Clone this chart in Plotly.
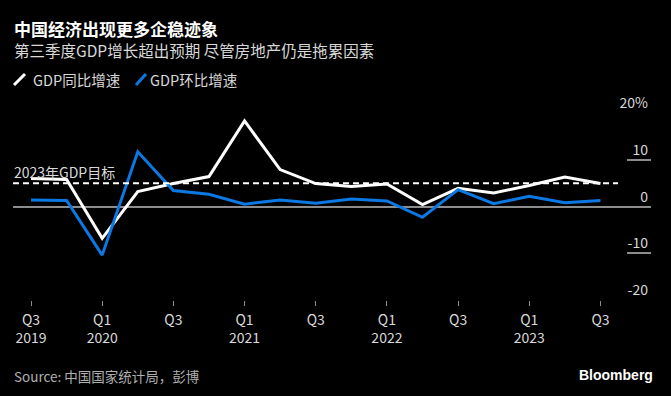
import plotly.graph_objects as go

W, H = 671, 396

quarters = ["2019Q3", "2019Q4", "2020Q1", "2020Q2", "2020Q3", "2020Q4",
            "2021Q1", "2021Q2", "2021Q3", "2021Q4", "2022Q1", "2022Q2",
            "2022Q3", "2022Q4", "2023Q1", "2023Q2", "2023Q3"]
yoy = [6.0, 5.8, -6.8, 3.2, 4.9, 6.4, 18.3, 7.9, 4.9, 4.3, 4.8, 0.4,
       3.9, 2.9, 4.5, 6.3, 4.9]
qoq = [1.4, 1.3, -10.4, 11.7, 3.4, 2.6, 0.5, 1.4, 0.7, 1.6, 1.2, -2.3,
       3.6, 0.6, 2.2, 0.8, 1.3]
series_names = ["GDP同比增速", "GDP环比增速"]
TARGET = 5.0
target_label = "2023年GDP目标"

xtick_idx = [0, 2, 4, 6, 8, 10, 12, 14, 16]
xtick_text = ["Q3<br>2019", "Q1<br>2020", "Q3", "Q1<br>2021", "Q3",
              "Q1<br>2022", "Q3", "Q1<br>2023", "Q3"]
ytick_vals = [-20, -10, 0, 10, 20]
ytick_text = ["-20", "-10", "0", "10", "20%"]

title = "中国经济出现更多企稳迹象"
subtitle = "第三季度GDP增长超出预期 尽管房地产仍是拖累因素"
source = "Source: 中国国家统计局，彭博"

WHITE = "#ffffff"
BLUE = "#0b78e3"
GRAY = "#8c8c8c"
TXT = "#d9d9d9"
FONT = "Noto Sans CJK SC"

def px(x):
    return x / W

def py(y):
    return 1 - y / H

xi = list(range(len(quarters)))

fig = go.Figure()
fig.add_trace(go.Scatter(x=xi, y=yoy, mode="lines", name=series_names[0],
                         line=dict(color=WHITE, width=3), showlegend=False,
                         hovertext=quarters))
fig.add_trace(go.Scatter(x=xi, y=qoq, mode="lines", name=series_names[1],
                         line=dict(color=BLUE, width=3), showlegend=False,
                         hovertext=quarters))
# invisible trace to anchor the right-side grid axis
fig.add_trace(go.Scatter(x=[0, 1], y=[0, 0], xaxis="x2", yaxis="y2",
                         mode="lines", line=dict(width=0), showlegend=False,
                         hoverinfo="skip"))

y_top, y_bot = 113, 300
ydom = [py(y_bot), py(y_top)]

fig.update_layout(
    width=W, height=H,
    paper_bgcolor="#000000", plot_bgcolor="#000000",
    margin=dict(l=0, r=0, t=0, b=0),
    font=dict(family=FONT, color=TXT, size=13),
    xaxis=dict(domain=[px(13), px(651)], range=[-0.506, 17.42],
               tickvals=xtick_idx, ticktext=xtick_text,
               ticks="outside", ticklen=5, tickcolor=GRAY, tickwidth=1,
               showgrid=False, zeroline=False, showline=False,
               ticklabelstandoff=2,
               tickfont=dict(size=14, color=TXT), automargin=False),
    yaxis=dict(domain=ydom, range=[-20, 20], showgrid=False,
               showticklabels=False, zeroline=True, zerolinecolor=GRAY,
               zerolinewidth=1.5, automargin=False),
    xaxis2=dict(domain=[px(627), px(651)], range=[0, 1], visible=False,
                anchor="y2"),
    yaxis2=dict(domain=ydom, range=[-20, 20], anchor="x2", side="right",
                tickvals=ytick_vals, ticktext=ytick_text,
                ticklabelposition="inside top", ticklabeloverflow="allow",
                showgrid=True, gridcolor=GRAY, gridwidth=1.5, zeroline=False,
                tickfont=dict(size=14, color=TXT), automargin=False),
)

shapes = [
    dict(type="line", xref="paper", yref="y", x0=px(13), x1=px(618),
         y0=TARGET, y1=TARGET, line=dict(color=WHITE, width=2, dash="6px,4px")),
    dict(type="line", xref="paper", yref="paper", x0=px(14), x1=px(25),
         y0=py(85), y1=py(74), line=dict(color=WHITE, width=3)),
    dict(type="line", xref="paper", yref="paper", x0=px(136), x1=px(146),
         y0=py(85), y1=py(74), line=dict(color=BLUE, width=3)),
]
fig.update_layout(shapes=shapes)

annots = [
    dict(text="<b>" + title + "</b>", x=px(12), y=py(29), font=dict(size=17, color=WHITE)),
    dict(text=subtitle, x=px(12), y=py(50), font=dict(size=15.5, color=TXT)),
    dict(text=series_names[0], x=px(31), y=py(79), font=dict(size=14.5, color=TXT)),
    dict(text=series_names[1], x=px(148), y=py(79), font=dict(size=14.5, color=TXT)),
    dict(text=target_label, x=px(12), y=py(172), font=dict(size=14, color=TXT)),
    dict(text=source, x=px(12), y=py(376), font=dict(size=13.5, color="#b0b0b0")),
]
for a in annots:
    a.update(xref="paper", yref="paper", xanchor="left", yanchor="middle",
             showarrow=False)
annots.append(dict(text="<b>Bloomberg</b>", x=px(655), y=py(375),
                   xref="paper", yref="paper", xanchor="right", yanchor="middle",
                   showarrow=False, font=dict(size=14, color=WHITE,
                                              family="Liberation Sans")))
fig.update_layout(annotations=annots)

fig.write_html("out.html",
               config={"displayModeBar": False},
               post_script="document.body.style.margin='0';"
                           "document.body.style.padding='0';"
                           "document.body.style.background='#000';")
